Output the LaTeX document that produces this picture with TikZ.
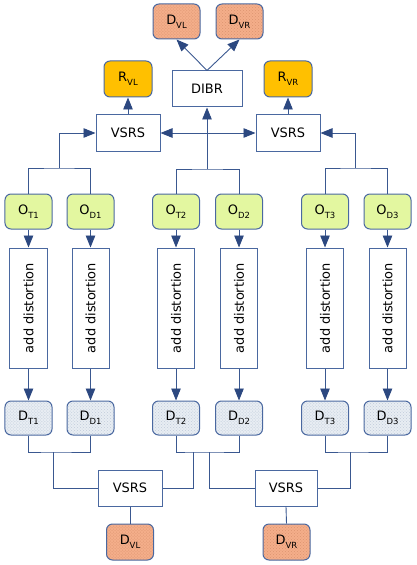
\documentclass[tikz,border=0pt]{standalone}
\usepackage{fontspec}
\setmainfont{DejaVu Sans}
\usetikzlibrary{arrows.meta,patterns}
\definecolor{edge}{HTML}{4A68A0}
\definecolor{lin}{HTML}{3A5890}
\definecolor{arr}{HTML}{2C4880}
\definecolor{ogreen}{HTML}{E3F7A0}
\definecolor{rorange}{HTML}{FFC000}
\definecolor{salmon}{HTML}{F4AE8A}
\definecolor{salmondot}{HTML}{DC9470}
\definecolor{greyblue}{HTML}{E8EDF3}
\definecolor{greydot}{HTML}{C0CCDA}
\newcommand\lsub[1]{\raisebox{-4bp}{\fontsize{8.5}{9}\selectfont #1}}
\tikzset{
  x=1bp, y=-1bp,
  every node/.style={font=\fontsize{13}{15}\selectfont, inner sep=0pt},
  plainbox/.style={draw=edge, line width=1bp, fill=white, minimum width=64bp, minimum height=36bp},
  rbox/.style={draw=edge, line width=1bp, rounded corners=6bp, minimum width=47bp, minimum height=35bp},
  obox/.style={rbox, fill=ogreen},
  resbox/.style={rbox, fill=rorange},
  distbox/.style={rbox, preaction={fill=greyblue}, pattern=crosshatch dots, pattern color=greydot},
  vbox/.style={rbox, preaction={fill=salmon}, pattern=crosshatch dots, pattern color=salmondot},
  adbox/.style={draw=edge, line width=1bp, fill=white, minimum width=120bp, minimum height=37bp, rotate=90},
  conn/.style={draw=lin, line width=0.9bp},
  tip/.style={},
  arrow/.style={conn, -{Triangle[length=12bp,width=9.5bp,color=arr]}},
  darrow/.style={conn, {Triangle[length=12bp,width=9.5bp,color=arr]}-{Triangle[length=12bp,width=9.5bp,color=arr]}},
}
\begin{document}
\begin{tikzpicture}
\useasboundingbox (0,0) rectangle (416,565);
% top
\node[vbox] (DVLt) at (176.5,21.5) {D\lsub{VL}};
\node[vbox] (DVRt) at (239.5,21.5) {D\lsub{VR}};
\node[plainbox, minimum width=70bp] (DIBR) at (207,89) {DIBR};
\node[resbox, minimum width=48bp, minimum height=36bp] (RVL) at (128,79) {R\lsub{VL}};
\node[resbox, minimum width=48bp, minimum height=36bp] (RVR) at (288,79) {R\lsub{VR}};
\node[plainbox] (VSl) at (128,133) {VSRS};
\node[plainbox] (VSr) at (288,133) {VSRS};
% originals
\node[obox] (OT1) at (28.5,211.5) {O\lsub{T1}};
\node[obox] (OD1) at (90.5,211.5) {O\lsub{D1}};
\node[obox] (OT2) at (176,211.5) {O\lsub{T2}};
\node[obox] (OD2) at (239,211.5) {O\lsub{D2}};
\node[obox] (OT3) at (325,211.5) {O\lsub{T3}};
\node[obox] (OD3) at (387.5,211.5) {O\lsub{D3}};
% add distortion
\node[adbox] (A1) at (28.5,308) {add distortion};
\node[adbox] (A2) at (90.5,308) {add distortion};
\node[adbox] (A3) at (176,308) {add distortion};
\node[adbox] (A4) at (239,308) {add distortion};
\node[adbox] (A5) at (325,308) {add distortion};
\node[adbox] (A6) at (387.5,308) {add distortion};
% distorted
\node[distbox, minimum height=34bp] (DT1) at (28.5,418) {D\lsub{T1}};
\node[distbox, minimum height=34bp] (DD1) at (90.5,418) {D\lsub{D1}};
\node[distbox, minimum height=34bp] (DT2) at (176,418) {D\lsub{T2}};
\node[distbox, minimum height=34bp] (DD2) at (239,418) {D\lsub{D2}};
\node[distbox, minimum height=34bp] (DT3) at (325,418) {D\lsub{T3}};
\node[distbox, minimum height=34bp] (DD3) at (387.5,418) {D\lsub{D3}};
% bottom
\node[plainbox] (VSbl) at (130,488) {VSRS};
\node[plainbox, minimum width=62bp] (VSbr) at (286,488) {VSRS};
\node[vbox, minimum height=36bp] (DVLb) at (130,542) {D\lsub{VL}};
\node[vbox, minimum height=36bp] (DVRb) at (286.5,542) {D\lsub{VR}};
% junctions
\coordinate (j1) at (59,168);
\coordinate (j2) at (207,169);
\coordinate (j3) at (355,168);
\coordinate (k1) at (53,452);
\coordinate (k2a) at (193,452);
\coordinate (k2b) at (209,452);
\coordinate (k3) at (350,452);
% top connectors
\draw[arrow] (DIBR.north) -- (DVLt.south);
\draw[arrow] (DIBR.north) -- (DVRt.south);
\draw[arrow] (VSl.north) -- (RVL.south);
\draw[arrow] (VSr.north) -- (RVR.south);
\draw[conn] (OT1.north) |- (j1) -| (OD1.north);
\draw[arrow] (j1) |- (VSl.west);
\draw[conn] (OT2.north) |- (j2) -| (OD2.north);
\draw[arrow] (j2) -- (DIBR.south);
\draw[darrow] (VSl.east) -- (VSr.west);
\draw[conn] (OT3.north) |- (j3) -| (OD3.north);
\draw[arrow] (j3) |- (VSr.east);
% vertical chains
\foreach \o/\a/\d in {OT1/A1/DT1, OD1/A2/DD1, OT2/A3/DT2, OD2/A4/DD2, OT3/A5/DT3, OD3/A6/DD3}{
  \draw[arrow] (\o.south) -- (\a.east);
  \draw[arrow] (\a.west) -- (\d.north);
}
% bottom connectors
\draw[conn] (DT1.south) |- (k1) -| (DD1.south);
\draw[conn] (k1) |- (VSbl.west);
\draw[conn] (DT2.south) |- (k2a) -- (k2b) -| (DD2.south);
\draw[conn] (k2a) |- (VSbl.east);
\draw[conn] (k2b) |- (VSbr.west);
\draw[conn] (DT3.south) |- (k3) -| (DD3.south);
\draw[conn] (k3) |- (VSbr.east);
\draw[conn] (VSbl.south) -- (DVLb.north);
\draw[conn] (VSbr.south) -- (DVRb.north);
\end{tikzpicture}
\end{document}
